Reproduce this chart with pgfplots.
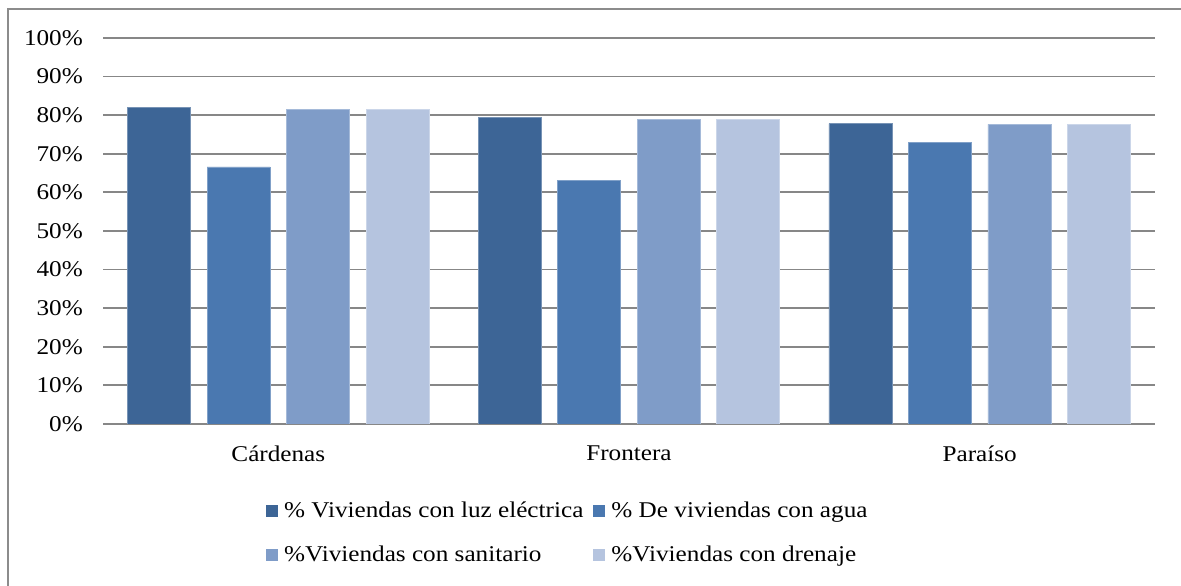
\documentclass[border=0pt]{standalone}
\usepackage{pgfplots}
\pgfplotsset{compat=1.18}
\usepackage{fontspec}
\setmainfont{Liberation Serif}[FakeStretch=1.12]

\definecolor{luz}{HTML}{3D6596}
\definecolor{agua}{HTML}{4A78B0}
\definecolor{sanit}{HTML}{7F9CC8}
\definecolor{dren}{HTML}{B5C4DF}
\definecolor{gridgray}{HTML}{878787}
\definecolor{framegray}{HTML}{8C8C8C}

\pgfplotsset{
  sq/.style={legend image code/.code={\path[##1,draw=none] (-2bp,-6bp) rectangle (10bp,6bp);}},
}

\begin{document}
\fontsize{22.5bp}{26bp}\selectfont
\begin{tikzpicture}
  \path[use as bounding box] (0,0) rectangle (1181bp,586bp);
  \draw[framegray, line width=1.4bp] (8bp,-20bp) -- (8bp,577bp) -- (1200bp,577bp);
  \begin{axis}[
    at={(103bp,162bp)}, anchor=south west,
    scale only axis, width=1052bp, height=386bp,
    ybar=16.5bp, bar width=63bp,
    xmin=-0.5, xmax=2.5, ymin=0, ymax=100,
    xtick={0,1,2}, xticklabels={Cárdenas,Frontera,Paraíso},
    ytick={0,10,...,100},
    yticklabels={0\%,10\%,20\%,30\%,40\%,50\%,60\%,70\%,80\%,90\%,100\%},
    major tick length=0pt,
    axis line style={draw=none},
    ymajorgrids, grid style={gridgray, line width=1.8bp},
    yticklabel style={anchor=east, inner sep=0pt, xshift=-20bp},
    xticklabel style={anchor=north, inner sep=0pt, yshift=-22bp},
    legend columns=2,
    legend cell align=left,
    legend style={at={(0.152,-0.19)}, anchor=north west, draw=none, fill=none,
      row sep=21bp,
      /tikz/every even column/.append style={column sep=4bp},
      nodes={inner ysep=2bp, inner xsep=6bp}},
  ]
    \addplot[fill=luz, draw=luz!70!white, line width=0.8bp, sq]
      coordinates {(0,82.1) (1,79.3) (2,77.8)};
    \addplot[fill=agua, draw=agua!70!white, line width=0.8bp, sq]
      coordinates {(0,66.6) (1,63.0) (2,73.0)};
    \addplot[fill=sanit, draw=sanit!70!white, line width=0.8bp, sq]
      coordinates {(0,81.6) (1,79.0) (2,77.6)};
    \addplot[fill=dren, draw=dren!70!white, line width=0.8bp, sq]
      coordinates {(0,81.5) (1,79.0) (2,77.6)};
    \legend{\% Viviendas con luz eléctrica, \% De viviendas con agua,
      \%Viviendas con sanitario, \%Viviendas con drenaje}
  \end{axis}
\end{tikzpicture}
\end{document}
